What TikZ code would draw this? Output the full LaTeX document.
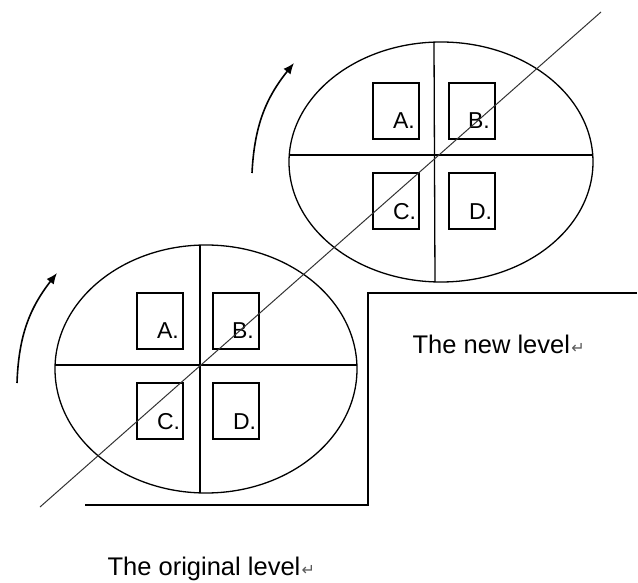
\documentclass[tikz,border=0pt]{standalone}
\usepackage{fontspec}
\setmainfont{Liberation Sans}
\newfontfamily\symfont{DejaVu Sans}
\usetikzlibrary{arrows.meta,calc}
\begin{document}
\begin{tikzpicture}[x=1pt,y=-1pt,
  line width=1.3pt,
  qbox/.style={draw, line width=1.3pt, minimum width=46pt, minimum height=56pt, inner sep=0pt},
  qlab/.style={font=\fontsize{23}{23}\selectfont, anchor=base west, inner sep=0pt},
  lvl/.style={font=\fontsize{25.5}{25.5}\selectfont, anchor=base west, inner sep=0pt},
  pmark/.style={font=\symfont\fontsize{16}{16}\selectfont, text=black!65},
  rot/.style={-{Latex[length=11pt,width=9pt]}, line width=1.6pt}]
\useasboundingbox (0,0) rectangle (638,583);
% lower ellipse
\coordinate (L) at (206,369);
\draw[line width=1.3pt] (L) ellipse [x radius=151, y radius=124];
\coordinate (Lt) at (200,245); \coordinate (Lb) at (200,493);
\coordinate (Ll) at (55,365); \coordinate (Lr) at (357,365);
\draw (Lt) -- (Lb); \draw (Ll) -- (Lr);
\node[qbox] (LA) at (160,321) {}; \node[qlab] at ($(LA.south west)+(20,-11)$) {A.};
\node[qbox] (LB) at (236,321) {}; \node[qlab] at ($(LB.south west)+(19,-11)$) {B.};
\node[qbox] (LC) at (160,411) {}; \node[qlab] at ($(LC.south west)+(20,-10)$) {C.};
\node[qbox] (LD) at (236,411) {}; \node[qlab] at ($(LD.south west)+(20,-10)$) {D.};
% upper ellipse
\coordinate (U) at (441,162);
\draw[line width=1.3pt] (U) ellipse [x radius=152, y radius=120];
\coordinate (Ut) at (434,42); \coordinate (Ub) at (435,282);
\coordinate (Ul) at (289,155); \coordinate (Ur) at (593,155);
\draw (Ut) -- (Ub); \draw (Ul) -- (Ur);
\node[qbox] (UA) at (396,111) {}; \node[qlab] at ($(UA.south west)+(20,-11)$) {A.};
\node[qbox] (UB) at (472,111) {}; \node[qlab] at ($(UB.south west)+(19,-11)$) {B.};
\node[qbox] (UC) at (396,201) {}; \node[qlab] at ($(UC.south west)+(20,-10)$) {C.};
\node[qbox] (UD) at (472,201) {}; \node[qlab] at ($(UD.south west)+(20,-10)$) {D.};
% diagonal
\coordinate (d1) at (40,507); \coordinate (d2) at (601,12);
\draw[line width=1pt, black!80] (d1) -- (d2);
% step
\coordinate (s1) at (85,505); \coordinate (s2) at (368,505);
\coordinate (s3) at (368,293); \coordinate (s4) at (637,293);
\draw (s1) -- (s2) -- (s3) -- (s4);
% rotation arrows
\coordinate (a1) at (17,383); \coordinate (a2) at (57,273);
\draw[rot] (a1) to[bend left=18] (a2);
\coordinate (b1) at (252,173); \coordinate (b2) at (294,63);
\draw[rot] (b1) to[bend left=18] (b2);
% labels
\node[lvl] (nl) at (412,353) {The new level};
\node[pmark, anchor=base west, inner sep=0pt] (nlm) at (nl.base east) {↵};
\node[lvl] (ol) at (107,575) {The original level};
\node[pmark, anchor=base west, inner sep=0pt] (olm) at (ol.base east) {↵};
\end{tikzpicture}
\end{document}
